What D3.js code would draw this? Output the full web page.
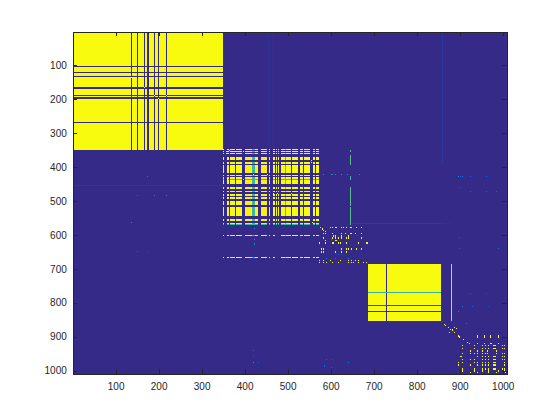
<!DOCTYPE html>
<html><head><meta charset="utf-8"><style>html,body{margin:0;background:#fff}svg{display:block}</style>
<script src="https://cdnjs.cloudflare.com/ajax/libs/d3/7.8.5/d3.min.js"></script></head><body>
<svg id="c" width="560" height="420"></svg>
<script>
const N = 1009;
const ticks = [100,200,300,400,500,600,700,800,900,1000];
const parulaStops = ["#352a87","#0363e1","#1485d4","#06a7c6","#38b99e","#92bf73","#d9ba56","#fcce2e","#f9fb0e"];

// block 1: indices 1-350, value 1 except gap rows and columns
const block1 = [1,350,1,349];
const block1GapCols = [[135,138],[149,152],[166,169],[172,177],[189,192],[199,202],[217,220]];
const block1GapRows = [[103,106],[121,124],[133,136],[163,169],[187,190],[195,198],[266,269]];
const block1Cross = [[136,135],[166,165],[189,189],[199,197],[217,189]];

// block 2: lattice of column bands and row bands [from,to,value]
const latticeCols = [[349,353,1],[358,362.5,1],[367,376.5,1],[381,395,1],[400,414,.96],[414,418,1],[418,423,.5],[423,432,1],[437,439,1],[439,451,.96],[455.5,460,1],[465,469.5,1],[472,474,1],[476.5,479,1],[483.5,493,1],[493,497,.53],[497,507,1],[511,525,1],[528,534.6,1],[539,553,1],[558,562.5,1],[567,572,1]];
const latticeRows = [[346,349,1],[352,355,1],[358,361,1],[370,380,1],[385,390,1],[394,419,1],[423,425.5,1],[429,434.5,1],[434.5,437,.5],[438,451,1],[459,466,1],[471,475,1],[479,484,1],[488,495,1],[500,513,1],[518,545,1],[552,558,1],[564,567,1],[567,570,.5],[601,604,1],[666,669,1]];
const latticeCross = [[356,358],[356,352],[364,349],[378,352],[396,352],[420,421],[452,421],[466,476],[476,476],[360,434],[396,434],[555,378],[555,384],[556,563]];

// block 3: indices 686-856
const block3 = [686,856,685,855];
const block3GapCols = [[728,731,0]];
const block3GapRows = [[767,770,.47],[808,811,.08],[823,826,0]];
const block3Side = [[880,883,685,855,.84]];

// sparse rows: [row, columns]
const sparseRows = [
 [576,[575,598,602,609,613,625,629,636,644,648,660,671]],[581,[579]],[585,[582]],[588,[586]],
 [594,[582,586,602,625,633,644,648,656,671]],[601,[606,609,625,640]],
 [607,[582,602,609,617,625,636,640,671]],[614,[586,609,613]],
 [620,[572,586,602,606,617,621,636,664,681,685]],[623,[572,586,602,606,617,621,636,664,681,685]],
 [640,[577,582,623,636,640,648,660,671]],[648,[577,582,609,625,636]],
 [673,[574,582,598,621,640,648,656,664]],[680,[574,582,590,602,617,640,648,652,664,675,683]],
 [862,[863]],[865,[865]],[871,[873,886]],[874,[891]],[876,[877]],[878,[881]],[886,[874,886]],
 [896,[897,940,957,970,989]],[899,[899,940,957,970,989]],[906,[908]],[915,[917]],
 [918,[921,940,957,970,973,989]],[925,[905,933,952,959,966,977,980,983,998,1003]],
 [933,[905,933,952,959,966,977,980,983,998,1003]],[940,[924,940,952,963,984]],
 [948,[905,924,933,940,952,959,963,984,998,1003]],[956,[900,903,940,952,959,966,977,980,983,998,1003]],
 [965,[905,924,933,952,959,966,977,980,983,998,1003]],[975,[896,905,933,940,952,959,966,977,980,983,1003]],
 [982,[896,924,940,952,959,966,977,980,983,1003]],[993,[905,933,952,959,966,977,980,983,998,1003]],
 [999,[905,933,952,966,989,1003]],[1004,[924,940,966,984,1006]]
];
// scattered low values: [col,row,value]
const faintCells = [[173,426,.2],[150,482,.15],[189,482,.25],[217,482,.25],[136,562,.3],[150,647,.13],[173,647,.08],[136,420,.03],
 [583,421,.3],[600,421,.3],[602,421,.3],[609,421,.3],[611,421,.3],[625,421,.3],[637,421,.3],[667,421,.3],
 [421,612,.3],[421,625,.25],[421,628,.25],[421,581,.3],[421,668,.15],[600,612,.15],[618,655,.15],[625,655,.1],
 [590,668,.25],[609,668,.2],[640,668,.2],[508,477,.85],[925,425,.15],[905,425,.2],[900,425,.15],[895,425,.25],[960,425,.15],
 [925,470,.15],[900,460,.13],[960,470,.12],[985,470,.12],[990,640,.2],[925,770,.12],[928,810,.12],[905,810,.2],[960,770,.1],[965,810,.08],[895,825,.2],[915,860,.2],[898,605,.15],[898,640,.12],
 [420,940,.15],[420,955,.1],[420,975,.3],[430,975,.1],[590,965,.15],[600,965,.1],[640,975,.2],[585,985,.15],[600,990,.12]];
// faint long lines: [from,to,fixed,value,"h"|"v"]
const faintLines = [[1,350,452,.03,"h"],[350,357,644,.55,"v"],[365,395,645,.55,"v"],[425,437,645,.5,"v"],[458,514,645,.55,"v"],[517,570,645,.55,"v"],
 [1,349,455,.02,"v"],[1,349,466,.02,"v"],[1,390,858,.03,"v"],[650,856,565,.06,"h"],[856,880,565,.02,"h"]];

const svg = d3.select("#c");
const m = {l:72.8, r:506.8, t:31.5, b:373.8};
const x = d3.scaleLinear().domain([.5,N+.5]).range([m.l,m.r]);
const y = d3.scaleLinear().domain([.5,N+.5]).range([m.t,m.b]);
const color = d3.scaleLinear().domain(parulaStops.map((_,i)=>i/(parulaStops.length-1))).range(parulaStops);
const g = svg.append("g").attr("shape-rendering","crispEdges");
function cell(u0,u1,v0,v1,val){
  const a=Math.round(x(u0)), b=Math.round(y(v0));
  g.append("rect").attr("x",a).attr("y",b)
   .attr("width",Math.max(1,Math.round(x(u1))-a)).attr("height",Math.max(1,Math.round(y(v1))-b))
   .attr("fill",color(val));
}
cell(.5,N+.5,.5,N+.5,0);
faintLines.filter(l=>l[0]<350||l[2]>=650||l[4]==="h").forEach(l=>l[4]==="h"?cell(l[0],l[1],l[2],l[2]+2,l[3]):cell(l[2],l[2]+2,l[0],l[1],l[3]));
cell(block1[0],block1[1],block1[2],block1[3],1);
block1GapCols.forEach(d=>cell(d[0],d[1],block1[2],block1[3],0));
block1GapRows.forEach(d=>cell(block1[0],block1[1],d[0],d[1],0));
block1Cross.forEach(d=>cell(d[0],d[0]+2,d[1],d[1]+2,1));
latticeRows.forEach(r=>latticeCols.forEach(c=>{
  const sparse = r[0]>600;
  if(sparse && (c[1]-c[0]<3)) return;
  cell(c[0],c[1],r[0],r[1],Math.min(r[2],c[2]));
}));
latticeCross.forEach(d=>cell(d[0],d[0]+2,d[1],d[1]+2,1));
faintLines.filter(l=>l[4]==="v"&&(l[2]===645||l[2]===644)).forEach(l=>cell(l[2],l[2]+2,l[0],l[1],l[3]));
cell(block3[0],block3[1],block3[2],block3[3],1);
block3GapCols.forEach(d=>cell(d[0],d[1],block3[2],block3[3],d[2]));
block3GapRows.forEach(d=>cell(block3[0],block3[1],d[0],d[1],d[2]));
block3Side.forEach(d=>cell(d[0],d[1],d[2],d[3],d[4]));
sparseRows.forEach(([r,cs])=>cs.forEach(c=>cell(c,c+2.3,r,r+4,1)));
faintCells.forEach(d=>cell(d[0],d[0]+2.3,d[1],d[1]+3,d[2]));

const ink="#262626";
const fmt=d3.format("d");
const gx=svg.append("g").attr("transform",`translate(0,${m.b})`).call(d3.axisBottom(x).tickValues(ticks).tickFormat(fmt).tickSize(-4.3).tickPadding(9));
const gy=svg.append("g").attr("transform",`translate(${m.l},0)`).call(d3.axisLeft(y).tickValues(ticks).tickFormat(fmt).tickSize(-4.3).tickPadding(6));
const gx2=svg.append("g").attr("transform",`translate(0,${m.t})`).call(d3.axisTop(x).tickValues(ticks).tickSize(-4.3).tickFormat(""));
const gy2=svg.append("g").attr("transform",`translate(${m.r},0)`).call(d3.axisRight(y).tickValues(ticks).tickSize(-4.3).tickFormat(""));
[gx,gy,gx2,gy2].forEach(a=>{
  a.selectAll("path").attr("stroke",ink).attr("stroke-width",1).attr("shape-rendering","crispEdges");
  a.selectAll("line").attr("stroke",ink).attr("shape-rendering","crispEdges");
  a.selectAll("text").attr("fill",ink).attr("font-family","Liberation Sans, Arial, sans-serif").attr("font-size",10);
});
</script></body></html>
